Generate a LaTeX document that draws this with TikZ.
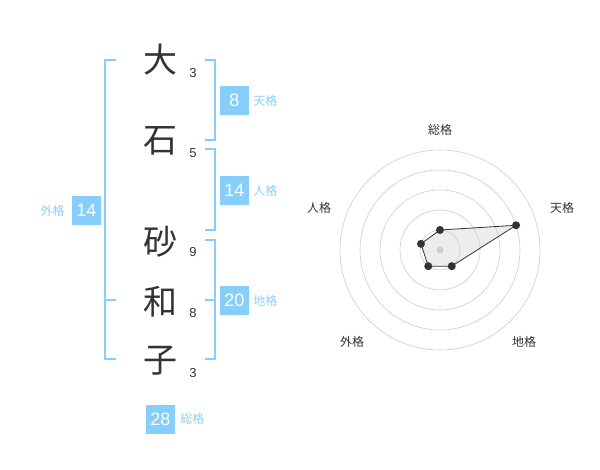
\documentclass[tikz,border=0pt]{standalone}
\usepackage{fontspec}
\setmainfont{Liberation Sans}
\newfontfamily\jp{Noto Sans CJK JP}
\usetikzlibrary{positioning}
\definecolor{skyb}{HTML}{87CEFA}
\definecolor{skyt}{HTML}{8DCFF5}
\definecolor{ink}{HTML}{333333}

\begin{document}
\begin{tikzpicture}[x=1pt, y=-1pt, node distance=4pt,
  kanji/.style={font=\jp\fontsize{34}{34}\selectfont, text=ink, inner sep=0pt},
  strokes/.style={font=\fontsize{13}{13}\selectfont, text=ink, inner sep=0pt},
  kaku/.style={fill=skyb, text=white, minimum size=29pt, inner sep=0pt,
    font=\fontsize{18}{18}\selectfont},
  kakuname/.style={font=\jp\fontsize{12}{12}\selectfont, text=skyt, inner sep=0pt},
  bracket/.style={draw=skyb, line width=2pt},
  ring/.style={draw=black!20, line width=0.6pt},
  axisname/.style={font=\jp\fontsize{12}{12}\selectfont, text=ink, inner sep=0pt},
  dot/.style={circle, fill=ink, inner sep=0pt, minimum size=8pt}]
  \useasboundingbox (0,0) rectangle (600,470);

  % name
  \node[kanji] (k1) at (160,60) {大};
  \node[kanji] (k2) at (160,141) {石};
  \node[kanji] (k3) at (160,242) {砂};
  \node[kanji] (k4) at (160,302) {和};
  \node[kanji] (k5) at (160,361) {子};
  \node[strokes] (n1) at (193,73) {3};
  \node[strokes] (n2) at (193,153) {5};
  \node[strokes] (n3) at (193,252) {9};
  \node[strokes] (n4) at (193,313) {8};
  \node[strokes] (n5) at (193,373) {3};

  % brackets
  \draw[bracket] (116,60) -- (105,60) -- (105,359) -- (116,359) (105,300) -- (116,300);
  \draw[bracket] (205,60) -- (215,60) -- (215,140) -- (205,140);
  \draw[bracket] (205,149) -- (215,149) -- (215,230) -- (205,230);
  \draw[bracket] (205,240) -- (215,240) -- (215,359) -- (205,359) (215,300) -- (205,300);

  % scores
  \node[kaku] (ten) at (234.5,100.5) {8};
  \node[kakuname, right=of ten] (tenl) {天格};
  \node[kaku] (jin) at (234.5,190.5) {14};
  \node[kakuname, right=of jin] (jinl) {人格};
  \node[kaku] (chi) at (234.5,300.5) {20};
  \node[kakuname, right=of chi] (chil) {地格};
  \node[kaku] (gai) at (86.5,210.5) {14};
  \node[kakuname, left=7pt of gai] (gail) {外格};
  \node[kaku] (sou) at (160.5,419) {28};
  \node[kakuname, right=5pt of sou] (soul) {総格};

  % radar
  \begin{scope}[shift={(440,250)}]
    \coordinate (rs) at (-90:20);
    \coordinate (rt) at (-18:80);
    \coordinate (rc) at (54:20);
    \coordinate (rg) at (126:20);
    \coordinate (rj) at (198:20);
    \fill[black!7] (rs) -- (rt) -- (rc) -- (rg) -- (rj) -- cycle;
    \foreach \r in {20,40,60,80,100}
      \draw[ring] (0,0) circle (\r);
    \fill[black!20] (0,0) circle (3.5);
    \draw[ink, line width=0.8pt] (rs) -- (rt) -- (rc) -- (rg) -- (rj) -- cycle;
    \foreach \p in {rs,rt,rc,rg,rj}
      \node[dot] at (\p) {};
    \node[axisname] (as) at (0,-120) {総格};
    \node[axisname] (at) at (122,-42) {天格};
    \node[axisname] (ac) at (84,92) {地格};
    \node[axisname] (ag) at (-88,92) {外格};
    \node[axisname] (aj) at (-121,-42) {人格};
  \end{scope}
\end{tikzpicture}
\end{document}
